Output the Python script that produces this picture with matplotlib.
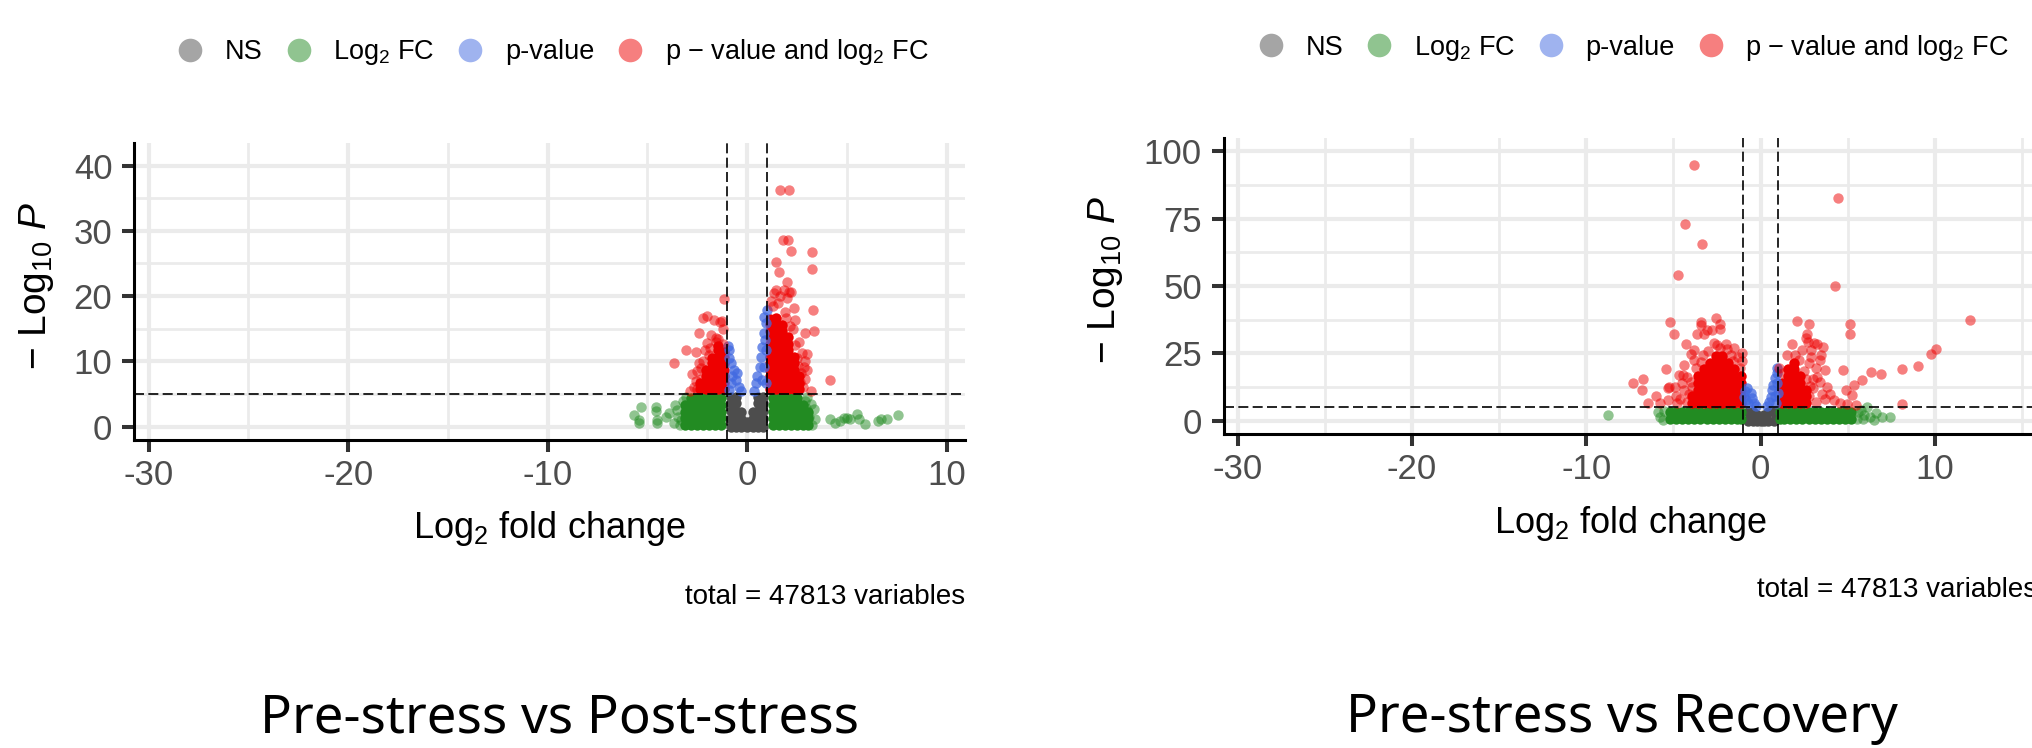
import matplotlib.pyplot as plt
from matplotlib.lines import Line2D
from matplotlib.ticker import MultipleLocator

plt.rcParams['font.family'] = ['Liberation Sans', 'DejaVu Sans']
plt.rcParams['mathtext.fontset'] = 'custom'
plt.rcParams['mathtext.rm'] = 'Liberation Sans'
plt.rcParams['mathtext.it'] = 'Liberation Sans:italic'
plt.rcParams['axes.unicode_minus'] = False

# legend categories and colours (EnhancedVolcano style)
categories = ['NS', 'Log$_2$ FC', 'p-value', 'p \u2212 value and log$_2$ FC']
cat_colors = ['#4D4D4D', '#228B22', '#4169E1', '#EE0000']
fc_cutoff = 1.0
logp_cutoff = 5.0          # -log10(1e-5)
n_total = 47813
panel_titles = ['Pre-stress vs Post-stress', 'Pre-stress vs Recovery']

post_xticks = [-30, -20, -10, 0, 10]
post_yticks = [0, 10, 20, 30, 40]
rec_xticks = [-30, -20, -10, 0, 10]
rec_yticks = [0, 25, 50, 75, 100]

# ---------------- Pre-stress vs Post-stress ----------------
post_ns = [
    (-0.8, 0.0), (-0.8, 1.2), (-0.8, 2.4), (-0.8, 3.6), (-0.8, 4.5),
    (-0.55, 0.0), (-0.55, 1.2), (-0.55, 2.4), (-0.55, 3.6), (-0.55, 4.5),
    (-0.3, 0.0), (-0.3, 1.1), (-0.3, 2.2), (0.0, 0.0), (0.0, 0.7),
    (0.3, 0.0), (0.3, 1.1), (0.3, 2.2),
    (0.55, 0.0), (0.55, 1.2), (0.55, 2.4), (0.55, 3.6), (0.55, 4.5),
    (0.8, 0.0), (0.8, 1.2), (0.8, 2.4), (0.8, 3.6), (0.8, 4.5),
]
post_fc_core = [
    (-3.1, 0.3), (-3.1, 1.3), (-3.1, 2.3), (-3.1, 3.3),
    (-2.8, 0.3), (-2.8, 1.3), (-2.8, 2.3), (-2.8, 3.3), (-2.8, 4.4),
    (-2.5, 0.3), (-2.5, 1.3), (-2.5, 2.3), (-2.5, 3.3), (-2.5, 4.4),
    (-2.2, 0.3), (-2.2, 1.3), (-2.2, 2.3), (-2.2, 3.3), (-2.2, 4.4),
    (-1.9, 0.3), (-1.9, 1.3), (-1.9, 2.3), (-1.9, 3.3), (-1.9, 4.4),
    (-1.6, 0.3), (-1.6, 1.3), (-1.6, 2.3), (-1.6, 3.3), (-1.6, 4.4),
    (-1.3, 0.3), (-1.3, 1.3), (-1.3, 2.3), (-1.3, 3.3), (-1.3, 4.4),
    (1.3, 0.3), (1.3, 1.3), (1.3, 2.3), (1.3, 3.3), (1.3, 4.4),
    (1.6, 0.3), (1.6, 1.3), (1.6, 2.3), (1.6, 3.3), (1.6, 4.4),
    (1.9, 0.3), (1.9, 1.3), (1.9, 2.3), (1.9, 3.3), (1.9, 4.4),
    (2.2, 0.3), (2.2, 1.3), (2.2, 2.3), (2.2, 3.3), (2.2, 4.4),
    (2.5, 0.3), (2.5, 1.3), (2.5, 2.3), (2.5, 3.3), (2.5, 4.4),
    (2.8, 0.3), (2.8, 1.3), (2.8, 2.3), (2.8, 3.3),
    (3.05, 0.3), (3.05, 1.3), (3.05, 2.3),
]
post_fc = [
    (-5.67, 1.8), (-5.3, 2.96), (-5.42, 1.0), (-5.42, 0.5), (-4.58, 3.06),
    (-4.58, 2.45), (-4.53, 1.0), (-4.5, 0.5), (-4.08, 1.43), (-3.67, 0.5),
    (-3.2, 3.98), (-3.5, 2.5), (-3.45, 1.5), (-3.6, 3.3), (-3.35, 0.3),
    (-3.05, 4.5), (-3.3, 1.0), (-3.9, 2.0),
    (3.35, 2.65), (2.95, 2.8), (3.25, 0.25), (3.1, 1.5), (3.2, 3.5), (3.0, 4.5),
    (2.9, 3.9), (3.4, 1.2),
    (4.17, 1.1), (4.42, 0.5), (4.67, 0.9), (4.83, 1.3), (5.0, 1.3), (5.13, 1.2),
    (5.53, 1.9), (5.63, 1.1), (5.92, 0.4), (6.58, 0.8), (6.72, 1.1), (7.03, 1.1),
    (7.55, 1.7),
]
post_p = [
    (-0.97, 12.4), (-0.92, 11.7), (-0.83, 9.7), (-0.67, 8.7), (-0.5, 8.2),
    (-0.58, 7.1), (-0.42, 6.1), (-0.33, 5.4), (-0.8, 6.6), (-0.92, 5.6),
    (-0.9, 10.5), (-0.75, 7.8),
    (0.97, 17.9), (0.83, 16.8), (0.92, 15.8), (0.83, 14.3), (0.75, 12.2),
    (0.67, 10.7), (0.63, 9.2), (0.5, 7.7), (0.42, 6.6), (0.33, 5.4),
    (0.83, 9.2), (0.92, 11.7), (0.75, 7.1), (0.92, 6.6), (0.9, 13.3),
]
post_both_core = [
    (-1.15, 5.7), (-1.15, 6.7), (-1.15, 7.7), (-1.15, 8.7), (-1.15, 9.7), (-1.15, 10.7), (-1.15, 11.5),
    (-1.45, 5.7), (-1.45, 6.7), (-1.45, 7.7), (-1.45, 8.7), (-1.45, 9.7), (-1.45, 10.7), (-1.45, 11.7),
    (-1.45, 12.3),
    (-1.75, 5.7), (-1.75, 6.7), (-1.75, 7.7), (-1.75, 8.7), (-1.75, 9.7), (-1.75, 10.5),
    (-2.05, 5.7), (-2.05, 6.7), (-2.05, 7.7), (-2.05, 8.6), (-2.35, 5.7), (-2.35, 6.6),
    (1.15, 5.7), (1.15, 6.7), (1.15, 7.7), (1.15, 8.7), (1.15, 9.7), (1.15, 10.7), (1.15, 11.7),
    (1.15, 12.7), (1.15, 13.7), (1.15, 14.7), (1.15, 15.7), (1.15, 16.5),
    (1.45, 5.7), (1.45, 6.7), (1.45, 7.7), (1.45, 8.7), (1.45, 9.7), (1.45, 10.7), (1.45, 11.7),
    (1.45, 12.7), (1.45, 13.7), (1.45, 14.7), (1.45, 15.7), (1.45, 16.7),
    (1.75, 5.7), (1.75, 6.7), (1.75, 7.7), (1.75, 8.7), (1.75, 9.7), (1.75, 10.7), (1.75, 11.7),
    (1.75, 12.7), (1.75, 13.7), (1.75, 14.7), (1.75, 15.5),
    (2.05, 5.7), (2.05, 6.7), (2.05, 7.7), (2.05, 8.7), (2.05, 9.7), (2.05, 10.7), (2.05, 11.7),
    (2.05, 12.7), (2.05, 13.7),
    (2.35, 5.7), (2.35, 6.7), (2.35, 7.7), (2.35, 8.7), (2.35, 9.7), (2.35, 10.7),
    (2.6, 5.7), (2.6, 6.7), (2.6, 7.7),
]
post_both = [
    (1.67, 36.3), (2.1, 36.3), (1.8, 28.6), (2.05, 28.6), (2.2, 26.9), (3.23, 26.8),
    (3.25, 24.2), (1.47, 25.2), (1.62, 23.7), (2.02, 22.1), (1.42, 21.0), (1.83, 21.0),
    (2.08, 20.6), (2.22, 20.6), (1.35, 20.4), (1.67, 20.0), (2.0, 19.7), (3.28, 17.8),
    (3.35, 14.7), (2.92, 14.4), (3.02, 11.1), (4.17, 7.1), (2.37, 18.1), (2.42, 16.3),
    (2.83, 9.1), (3.0, 8.6), (2.67, 6.9), (2.92, 7.3), (3.2, 5.5), (1.3, 18.5),
    (1.55, 18.9), (1.2, 19.2), (2.6, 13.0), (2.5, 10.5), (2.75, 11.3), (2.9, 10.0),
    (2.4, 12.5), (1.9, 17.6), (2.3, 15.0), (2.8, 6.0), (2.55, 9.3), (2.15, 15.4),
    (1.95, 16.6), (2.7, 8.2),
    (-1.17, 19.6), (-2.03, 17.0), (-2.2, 16.7), (-1.67, 16.3), (-1.37, 16.0),
    (-1.25, 16.2), (-1.22, 14.9), (-2.42, 14.4), (-1.8, 14.0), (-1.58, 13.6),
    (-1.47, 13.4), (-2.03, 12.8), (-2.13, 11.7), (-2.57, 11.5), (-3.07, 11.7),
    (-3.67, 9.8), (-2.87, 5.4), (-2.42, 9.8), (-2.5, 8.5), (-2.33, 7.3), (-2.58, 7.0),
    (-2.67, 6.0), (-1.9, 11.0), (-2.2, 10.0), (-1.55, 13.0), (-2.5, 5.8), (-2.75, 8.0),
    (-1.2, 12.6), (-1.85, 12.1), (-2.3, 9.0),
]

# ---------------- Pre-stress vs Recovery ----------------
rec_ns = [
    (-0.75, 0.0), (-0.75, 3.0), (-0.45, 0.0), (-0.45, 3.0), (-0.2, 0.0), (-0.2, 2.0),
    (0.0, 0.0), (0.0, 0.8), (0.2, 0.0), (0.2, 2.0), (0.45, 0.0), (0.45, 3.0),
    (0.75, 0.0), (0.75, 3.0),
]
rec_fc_core = [
    (-5.2, 0.5), (-5.2, 3.2), (-4.85, 0.5), (-4.85, 3.2), (-4.5, 0.5), (-4.5, 3.2),
    (-4.15, 0.5), (-4.15, 3.2), (-3.8, 0.5), (-3.8, 3.2), (-3.45, 0.5), (-3.45, 3.2),
    (-3.1, 0.5), (-3.1, 3.2), (-2.75, 0.5), (-2.75, 3.2), (-2.4, 0.5), (-2.4, 3.2),
    (-2.05, 0.5), (-2.05, 3.2), (-1.7, 0.5), (-1.7, 3.2), (-1.35, 0.5), (-1.35, 3.2),
    (-1.1, 0.5), (-1.1, 3.2),
    (1.1, 0.5), (1.1, 3.2), (1.35, 0.5), (1.35, 3.2), (1.7, 0.5), (1.7, 3.2),
    (2.05, 0.5), (2.05, 3.2), (2.4, 0.5), (2.4, 3.2), (2.75, 0.5), (2.75, 3.2),
    (3.1, 0.5), (3.1, 3.2), (3.45, 0.5), (3.45, 3.2), (3.8, 0.5), (3.8, 3.2),
    (4.15, 0.5), (4.15, 3.2), (4.5, 0.5), (4.5, 3.2), (4.85, 0.5), (4.85, 3.2),
    (5.2, 0.5), (5.2, 3.2),
]
rec_fc = [
    (-8.78, 2.1), (-5.6, 0.2), (-5.75, 1.5), (-5.55, 3.4), (-5.9, 3.0),
    (5.55, 0.6), (5.6, 3.0), (5.85, 0.4), (5.95, 2.2), (5.75, 4.0), (6.1, 4.9),
    (6.3, 1.2), (6.64, 2.7), (6.97, 1.5), (7.4, 1.5), (6.5, 0.3),
]
rec_p = [
    (-0.95, 8.9), (-0.86, 7.7), (-0.9, 11.0), (-0.76, 12.0), (-0.57, 10.1),
    (-0.48, 8.3), (-0.38, 6.4), (-0.29, 5.4), (-0.7, 6.5),
    (0.95, 19.4), (0.92, 17.5), (0.8, 15.7), (0.73, 13.2), (0.67, 11.4), (0.57, 8.9),
    (0.48, 7.0), (0.34, 5.4), (0.95, 13.8), (0.97, 10.1), (0.86, 6.4), (0.85, 9.0),
]
rec_both_core = [
    (-3.95, 6.5), (-3.95, 9.0),
    (-3.6, 6.5), (-3.6, 9.0), (-3.6, 11.5), (-3.6, 14.0), (-3.6, 16.5),
    (-3.25, 6.5), (-3.25, 9.0), (-3.25, 11.5), (-3.25, 14.0), (-3.25, 16.5), (-3.25, 19.0),
    (-2.9, 6.5), (-2.9, 9.0), (-2.9, 11.5), (-2.9, 14.0), (-2.9, 16.5), (-2.9, 19.0),
    (-2.9, 21.5),
    (-2.55, 6.5), (-2.55, 9.0), (-2.55, 11.5), (-2.55, 14.0), (-2.55, 16.5), (-2.55, 19.0),
    (-2.55, 21.5), (-2.55, 24.0),
    (-2.2, 6.5), (-2.2, 9.0), (-2.2, 11.5), (-2.2, 14.0), (-2.2, 16.5), (-2.2, 19.0),
    (-2.2, 21.5), (-2.2, 24.0),
    (-1.85, 6.5), (-1.85, 9.0), (-1.85, 11.5), (-1.85, 14.0), (-1.85, 16.5), (-1.85, 19.0),
    (-1.85, 21.5),
    (-1.5, 6.5), (-1.5, 9.0), (-1.5, 11.5), (-1.5, 14.0), (-1.5, 16.5), (-1.5, 19.0),
    (-1.15, 6.5), (-1.15, 9.0), (-1.15, 11.5), (-1.15, 14.0), (-1.15, 16.5),
    (1.2, 6.5), (1.2, 9.0), (1.2, 11.5), (1.2, 14.0),
    (1.55, 6.5), (1.55, 9.0), (1.55, 11.5), (1.55, 14.0), (1.55, 16.5), (1.55, 19.0),
    (1.9, 6.5), (1.9, 9.0), (1.9, 11.5), (1.9, 14.0), (1.9, 16.5), (1.9, 19.0),
    (1.9, 21.5),
    (2.25, 6.5), (2.25, 9.0), (2.25, 11.5), (2.25, 14.0), (2.25, 16.5),
    (2.6, 6.5), (2.6, 9.0), (2.6, 11.5),
]
rec_both = [
    (-3.85, 95.1), (4.43, 82.7), (-4.35, 73.1), (-3.38, 65.7), (-4.73, 54.1),
    (4.26, 50.1), (12.02, 37.3), (-5.19, 36.8), (-4.98, 32.3), (-3.44, 36.7),
    (-3.4, 35.5), (-2.58, 38.0), (-2.33, 35.8), (-2.35, 34.2), (2.06, 37.0),
    (2.79, 35.9), (5.13, 35.7), (5.11, 32.2), (10.06, 26.7), (9.77, 24.9),
    (9.06, 20.2), (8.13, 19.1), (6.89, 17.3), (6.32, 18.1), (5.82, 15.1),
    (5.38, 13.2), (5.25, 9.5), (4.92, 11.4), (4.73, 18.8), (4.0, 9.9), (8.11, 6.0),
    (5.5, 5.8), (4.96, 6.2), (4.58, 6.4),
    (-7.35, 13.8), (-6.72, 15.3), (-6.83, 11.4), (-6.49, 6.4), (-5.99, 9.1),
    (-5.44, 19.0), (-5.34, 12.0), (-5.25, 12.6), (-4.87, 9.1), (-4.29, 28.4),
    (-4.77, 6.4), (-3.63, 32.3), (-3.24, 32.3), (-3.05, 33.8), (-2.77, 33.6),
    (-2.7, 29.0), (-2.5, 28.0), (-2.0, 28.5), (-1.5, 27.0), (-1.9, 26.5),
    (-4.0, 24.9), (-3.85, 26.2), (-3.82, 22.5), (-4.68, 16.9), (-4.48, 16.9),
    (-4.39, 20.6), (-4.2, 16.0), (-4.5, 14.0), (-4.9, 12.5), (-4.1, 10.0),
    (-4.6, 8.0), (-4.2, 7.0), (-3.95, 12.5), (-5.3, 7.5), (-5.8, 6.5),
    (-1.3, 23.5), (-1.05, 22.0), (-1.05, 25.0), (-3.3, 24.5), (-3.0, 26.0),
    (-2.35, 27.0), (-1.7, 24.5), (-3.7, 19.5), (-4.0, 14.5), (-1.2, 19.5),
    (-3.4, 21.8), (-1.6, 22.0), (-4.4, 11.5),
    (1.81, 28.4), (2.67, 32.3), (2.58, 30.5), (2.71, 29.3), (3.05, 28.9),
    (3.24, 28.6), (3.57, 27.4), (2.37, 26.2), (2.9, 26.2), (3.44, 24.3),
    (3.72, 18.8), (3.15, 19.4), (3.24, 16.3), (2.9, 23.5), (3.4, 22.5),
    (2.8, 21.5), (3.0, 15.5), (3.4, 14.5), (3.0, 12.0), (3.8, 12.5), (3.5, 10.0),
    (2.8, 9.0), (4.2, 7.5), (3.2, 7.0), (3.7, 8.0), (1.5, 24.5), (1.05, 19.5),
    (2.2, 22.5), (2.0, 24.5), (1.3, 17.5), (2.5, 18.5), (2.6, 15.5), (2.85, 13.0),
]


def draw_panel(ax, ns, fc_core, fc, p, both_core, both, xticks, yticks,
               xminor, yminor, xlim, ylim):
    layers = [(ns, cat_colors[0], 1.0), (fc_core, cat_colors[1], 1.0),
              (both_core, cat_colors[3], 1.0), (p, cat_colors[2], 0.75),
              (fc, cat_colors[1], 0.5), (both, cat_colors[3], 0.5)]
    for pts, col, a in layers:
        xs, ys = zip(*pts)
        ax.scatter(xs, ys, s=56, color=col, alpha=a, linewidths=0, zorder=3)

    dash = (0, (6, 2.6))
    ax.axvline(-fc_cutoff, color='black', lw=1.2, ls=dash, zorder=4)
    ax.axvline(fc_cutoff, color='black', lw=1.2, ls=dash, zorder=4)
    ax.axhline(logp_cutoff, color='black', lw=1.2, ls=dash, zorder=4)

    ax.set_xlim(*xlim)
    ax.set_ylim(*ylim)
    ax.set_xticks(xticks)
    ax.set_yticks(yticks)
    ax.xaxis.set_minor_locator(MultipleLocator(xminor))
    ax.yaxis.set_minor_locator(MultipleLocator(yminor))
    ax.set_axisbelow(True)
    ax.grid(which='major', color='#EBEBEB', lw=3.0)
    ax.grid(which='minor', color='#EBEBEB', lw=2.0)

    for s in ['top', 'right']:
        ax.spines[s].set_visible(False)
    for s in ['left', 'bottom']:
        ax.spines[s].set_linewidth(2.2)
        ax.spines[s].set_color('black')
    ax.tick_params(which='major', length=8.5, width=2.9, color='#333333',
                   labelsize=25, labelcolor='#4D4D4D')
    ax.tick_params(axis='x', pad=5)
    ax.tick_params(axis='y', pad=7)
    ax.tick_params(which='minor', length=0)

    ax.set_xlabel('Log$_2$ fold change', fontsize=26)
    ax.set_ylabel('\u2212 Log$_{10}$ $P$', fontsize=28)

    handles = [Line2D([], [], marker='o', linestyle='', markersize=17,
                      markerfacecolor=c, markeredgewidth=0, alpha=0.5)
               for c in cat_colors]
    ax.legend(handles, categories, loc='center', bbox_to_anchor=(0.505, 1.305),
              ncol=4, frameon=False, fontsize=19.5, handlelength=0.85,
              handletextpad=0.85, columnspacing=0.9, borderpad=0, borderaxespad=0)
    ax.text(1.0, -0.528, f'total = {n_total} variables', transform=ax.transAxes,
            ha='right', va='center', fontsize=20)


fig = plt.figure(figsize=(20.33, 7.48), dpi=100)
ax1 = fig.add_axes([134 / 2033, 1 - 440 / 748, 831 / 2033, 297 / 748])
ax2 = fig.add_axes([1223.5 / 2033, 1 - 434 / 748, 813.5 / 2033, 296 / 748])

draw_panel(ax1, post_ns, post_fc_core, post_fc, post_p, post_both_core, post_both,
           post_xticks, post_yticks, 5, 5, (-30.74, 10.92), (-2.07, 43.47))
draw_panel(ax2, rec_ns, rec_fc_core, rec_fc, rec_p, rec_both_core, rec_both,
           rec_xticks, rec_yticks, 5, 12.5, (-30.82, 15.86), (-5.0, 105.0))

ax1.xaxis.set_label_coords(0.5, -0.232)
ax2.xaxis.set_label_coords(0.5, -0.236)
ax1.yaxis.set_label_coords(-0.094, 0.52)
ax2.yaxis.set_label_coords(-0.121, 0.52)

ax1.text(0.512, -0.985, panel_titles[0], transform=ax1.transAxes, ha='center',
         va='baseline', fontsize=38, family='Noto Sans')
ax2.text(0.49, -1.006, panel_titles[1], transform=ax2.transAxes, ha='center',
         va='baseline', fontsize=38, family='Noto Sans')

fig.savefig('out.png', dpi=100)
